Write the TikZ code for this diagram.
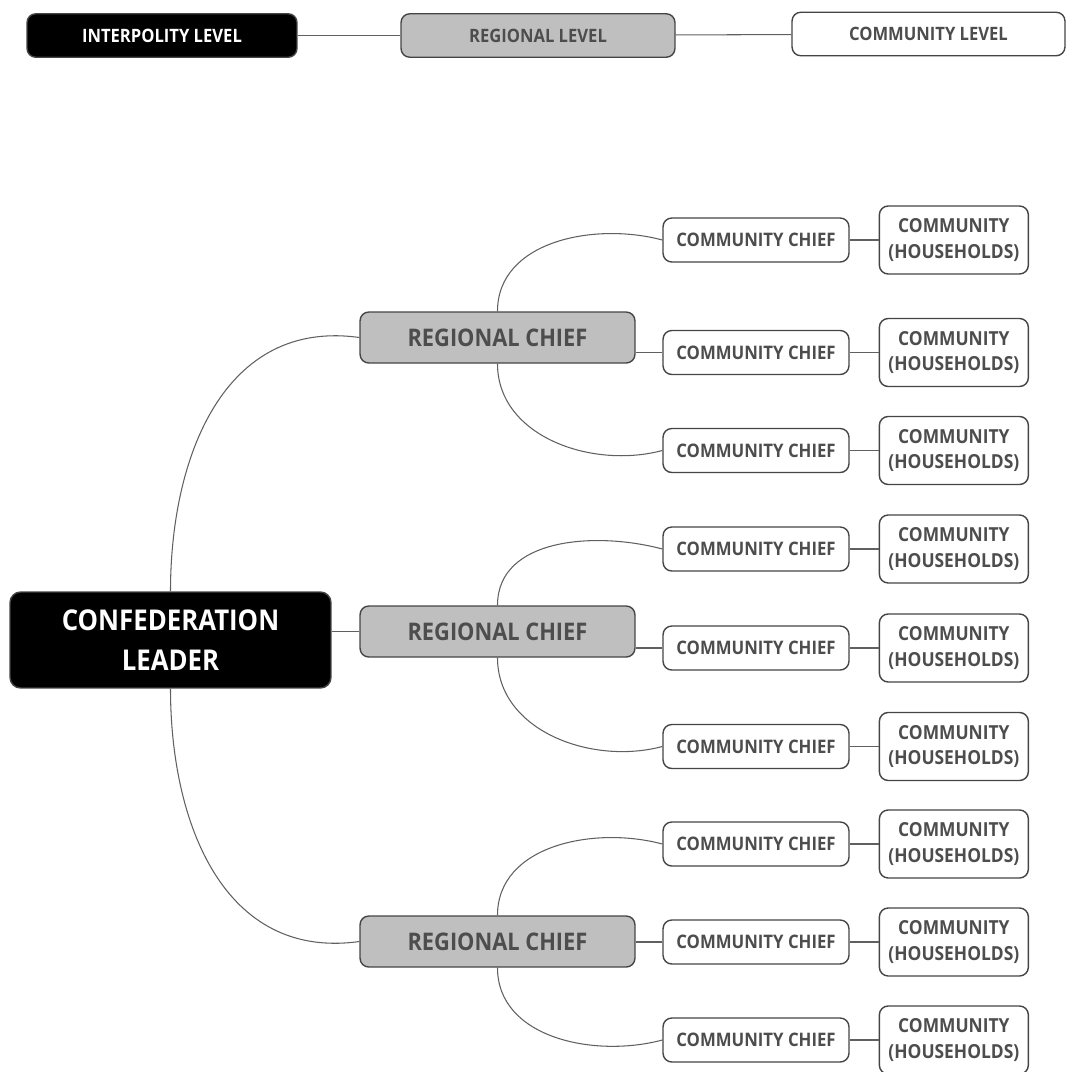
\documentclass[tikz,border=0pt]{standalone}
\usepackage{fontspec}
\setmainfont[FakeStretch=0.9]{Open Sans}
\usepackage{tikz}
\usetikzlibrary{positioning}

\definecolor{boxgray}{HTML}{BFBFBF}
\definecolor{textgray}{HTML}{4D4D4D}
\definecolor{edgegray}{HTML}{454545}
\definecolor{linkgray}{HTML}{606060}

\begin{document}
\begin{tikzpicture}[
    x=0.02cm, y=-0.02cm,
    box/.style={draw=edgegray, line width=0.8pt, rounded corners=5pt, align=center, inner sep=0pt},
    topbox/.style={box, fill=black, text=white},
    midbox/.style={box, fill=boxgray, text=textgray},
    lowbox/.style={box, fill=white, text=textgray},
    legend/.style={minimum width=5.4cm, minimum height=0.87cm, font=\fontsize{10.5}{12}\selectfont\bfseries},
    leaderbox/.style={topbox, minimum width=6.42cm, minimum height=1.92cm, rounded corners=6pt, font=\fontsize{16.3}{22.7}\selectfont\bfseries},
    regionbox/.style={midbox, minimum width=5.5cm, minimum height=1.02cm, font=\fontsize{13.8}{16}\selectfont\bfseries},
    chiefbox/.style={lowbox, minimum width=3.72cm, minimum height=0.88cm, font=\fontsize{10.6}{12}\selectfont\bfseries},
    homebox/.style={lowbox, minimum width=2.98cm, minimum height=1.36cm, font=\fontsize{11}{14.7}\selectfont\bfseries},
    link/.style={draw=linkgray, line width=0.6pt}
]
    \useasboundingbox (0, 0) rectangle (1066, 1072);

    % Legend
    \node[topbox, legend] (lvl1) at (162, 35.5) {INTERPOLITY LEVEL};
    \node[midbox, legend, minimum width=5.48cm] (lvl2) at (538, 35.5) {REGIONAL LEVEL};
    \node[lowbox, legend, minimum width=5.46cm] (lvl3) at (928.5, 34) {COMMUNITY LEVEL};
    \draw[link] (lvl1) -- (lvl2);
    \draw[link] (lvl2) -- (lvl3);

    % Leader and regional chiefs
    \node[leaderbox] (leader) at (170.5, 640) {CONFEDERATION\\LEADER};
    \node[regionbox] (reg1) at (497.5, 337.5) {REGIONAL CHIEF};
    \node[regionbox] (reg2) at (497.5, 631.5) {REGIONAL CHIEF};
    \node[regionbox] (reg3) at (497.5, 941.5) {REGIONAL CHIEF};

    \draw[link] (leader.north) to[out=90, in=172, looseness=1.1] (reg1.west);
    \draw[link] (leader.east |- reg2.west) -- (reg2.west);
    \draw[link] (leader.south) to[out=-90, in=188, looseness=1.1] (reg3.west);

    % Community chiefs
    \node[chiefbox] (cc11) at (756, 240) {COMMUNITY CHIEF};
    \node[chiefbox] (cc12) at (756, 352.5) {COMMUNITY CHIEF};
    \node[chiefbox] (cc13) at (756, 450.5) {COMMUNITY CHIEF};
    \node[chiefbox] (cc21) at (756, 549) {COMMUNITY CHIEF};
    \node[chiefbox] (cc22) at (756, 648) {COMMUNITY CHIEF};
    \node[chiefbox] (cc23) at (756, 746.5) {COMMUNITY CHIEF};
    \node[chiefbox] (cc31) at (756, 844) {COMMUNITY CHIEF};
    \node[chiefbox] (cc32) at (756, 942) {COMMUNITY CHIEF};
    \node[chiefbox] (cc33) at (756, 1040) {COMMUNITY CHIEF};

    \draw[link] (reg1.north) to[out=90, in=165] (cc11.west);
    \draw[link] (reg1.east |- cc12.west) -- (cc12.west);
    \draw[link] (reg1.south) to[out=-90, in=195] (cc13.west);
    \draw[link] (reg2.north) to[out=90, in=165] (cc21.west);
    \draw[link] (reg2.east |- cc22.west) -- (cc22.west);
    \draw[link] (reg2.south) to[out=-90, in=195] (cc23.west);
    \draw[link] (reg3.north) to[out=90, in=165] (cc31.west);
    \draw[link] (reg3.east |- cc32.west) -- (cc32.west);
    \draw[link] (reg3.south) to[out=-90, in=195] (cc33.west);

    % Communities
    \node[homebox, right=0.58cm of cc11] (hh11) {COMMUNITY\\(HOUSEHOLDS)};
    \node[homebox, right=0.58cm of cc12] (hh12) {COMMUNITY\\(HOUSEHOLDS)};
    \node[homebox, right=0.58cm of cc13] (hh13) {COMMUNITY\\(HOUSEHOLDS)};
    \node[homebox, right=0.58cm of cc21] (hh21) {COMMUNITY\\(HOUSEHOLDS)};
    \node[homebox, right=0.58cm of cc22] (hh22) {COMMUNITY\\(HOUSEHOLDS)};
    \node[homebox, right=0.58cm of cc23] (hh23) {COMMUNITY\\(HOUSEHOLDS)};
    \node[homebox, right=0.58cm of cc31] (hh31) {COMMUNITY\\(HOUSEHOLDS)};
    \node[homebox, right=0.58cm of cc32] (hh32) {COMMUNITY\\(HOUSEHOLDS)};
    \node[homebox, right=0.58cm of cc33] (hh33) {COMMUNITY\\(HOUSEHOLDS)};

    \draw[link] (cc11) -- (hh11);
    \draw[link] (cc12) -- (hh12);
    \draw[link] (cc13) -- (hh13);
    \draw[link] (cc21) -- (hh21);
    \draw[link] (cc22) -- (hh22);
    \draw[link] (cc23) -- (hh23);
    \draw[link] (cc31) -- (hh31);
    \draw[link] (cc32) -- (hh32);
    \draw[link] (cc33) -- (hh33);
\end{tikzpicture}
\end{document}
